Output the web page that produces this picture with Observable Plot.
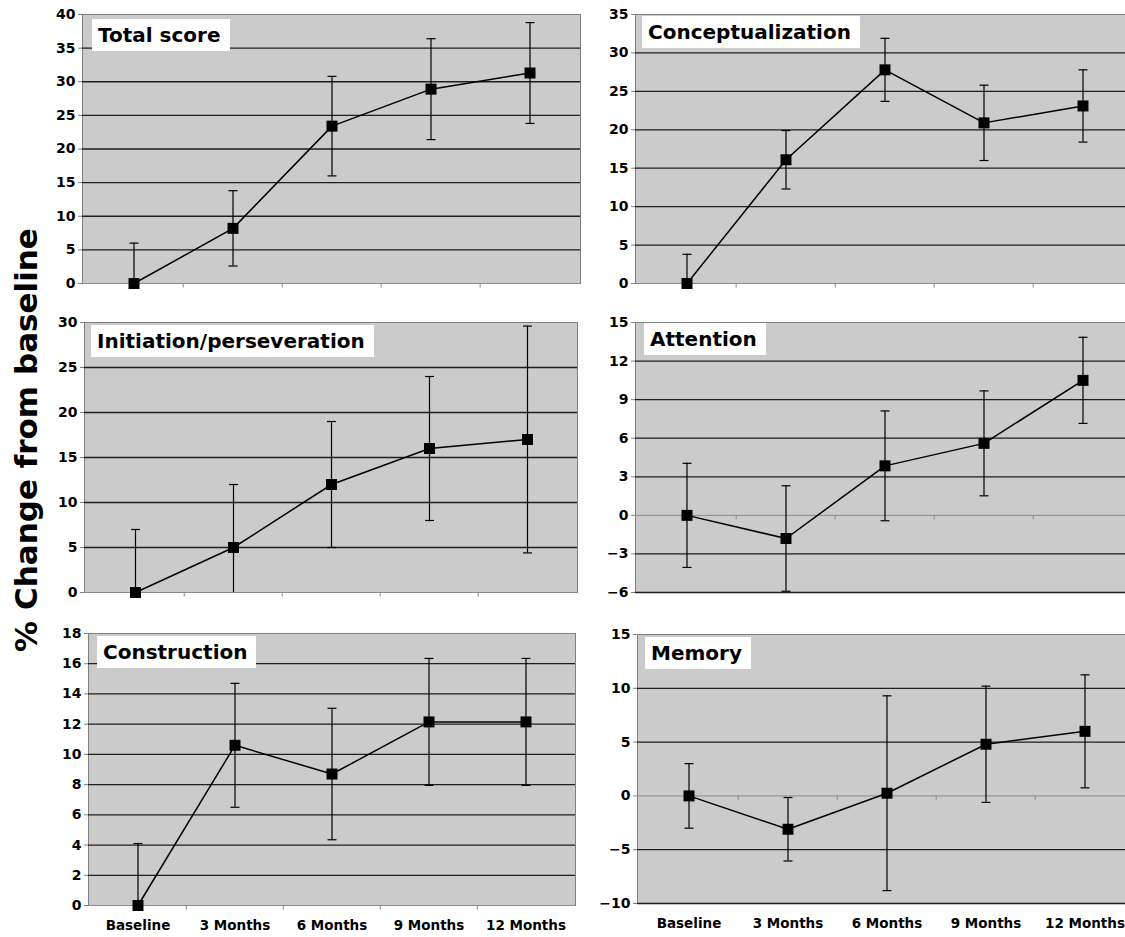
<!DOCTYPE html>
<html>
<head>
<meta charset="utf-8">
<script src="https://cdn.jsdelivr.net/npm/d3@7"></script>
<script src="https://cdn.jsdelivr.net/npm/@observablehq/plot@0.6"></script>
<style>
  html, body { margin: 0; padding: 0; background: #fff; overflow: hidden; }
  #page { position: relative; width: 1125px; height: 937px; overflow: hidden; font-family: "DejaVu Sans", Verdana, sans-serif; }
  .panel { position: absolute; }
  .panel svg { display: block; overflow: visible; max-width: none !important; }
  .panel svg text { font-weight: bold; }
  .title-box {
    position: absolute; background: #fff; color: #000;
    font: bold 20px "DejaVu Sans", Verdana, sans-serif; line-height: 24px;
    padding: 4px 9px 4px 6px; white-space: nowrap;
  }
  .ylabel {
    position: absolute; left: 26px; top: 440px;
    transform: translate(-50%, -50%) rotate(-90deg);
    font: bold 31px "DejaVu Sans", Verdana, sans-serif; white-space: nowrap; color: #000;
  }
  [aria-label^="x-axis"] text { font-size: 13.5px; }
  [aria-label="y-axis tick"], [aria-label="y-axis"] line { stroke: #808080; }
</style>
</head>
<body>
<div id="page"><div class="ylabel">% Change from baseline</div></div>
<script>
// Visits at which every subscale was measured
const timepoints = ["Baseline", "3 Months", "6 Months", "9 Months", "12 Months"];

// Mean % change from baseline and error-bar half-widths, per subscale
const totalMean = [0, 8.2, 23.4, 28.9, 31.3];
const totalErr = [6.0, 5.6, 7.4, 7.5, 7.5];
const totalTicks = [0, 5, 10, 15, 20, 25, 30, 35, 40];

const conceptMean = [0, 16.1, 27.8, 20.9, 23.1];
const conceptErr = [3.8, 3.8, 4.1, 4.9, 4.7];
const conceptTicks = [0, 5, 10, 15, 20, 25, 30, 35];

const initMean = [0, 5.0, 12.0, 16.0, 17.0];
const initErr = [7.0, 7.0, 7.0, 8.0, 12.6];
const initTicks = [0, 5, 10, 15, 20, 25, 30];

const attentionMean = [0, -1.8, 3.85, 5.6, 10.5];
const attentionErr = [4.05, 4.1, 4.27, 4.08, 3.35];
const attentionTicks = [-6, -3, 0, 3, 6, 9, 12, 15];

const constructionMean = [0, 10.6, 8.7, 12.15, 12.15];
const constructionErr = [4.1, 4.1, 4.35, 4.2, 4.2];
const constructionTicks = [0, 2, 4, 6, 8, 10, 12, 14, 16, 18];

const memoryMean = [0, -3.1, 0.25, 4.8, 6.0];
const memoryErr = [3.0, 2.95, 9.05, 5.4, 5.25];
const memoryTicks = [-10, -5, 0, 5, 10, 15];

const panels = [
  {title: "Total score", mean: totalMean, err: totalErr, ticks: totalTicks},
  {title: "Conceptualization", mean: conceptMean, err: conceptErr, ticks: conceptTicks},
  {title: "Initiation/perseveration", mean: initMean, err: initErr, ticks: initTicks},
  {title: "Attention", mean: attentionMean, err: attentionErr, ticks: attentionTicks},
  {title: "Construction", mean: constructionMean, err: constructionErr, ticks: constructionTicks},
  {title: "Memory", mean: memoryMean, err: memoryErr, ticks: memoryTicks}
];

// Page placement of each plot area (x0..x1, y0..y1) and its title box (tx, ty)
const layout = [
  {x0: 82, x1: 580, y0: 14, y1: 283, tx: 92, ty: 19},
  {x0: 635, x1: 1133, y0: 14, y1: 283, tx: 642, ty: 16},
  {x0: 84, x1: 577, y0: 322, y1: 592, tx: 91, ty: 325},
  {x0: 635, x1: 1133, y0: 322, y1: 592, tx: 644, ty: 323},
  {x0: 88, x1: 575, y0: 633, y1: 905, tx: 97, ty: 636, bottom: true},
  {x0: 637, x1: 1135, y0: 634, y1: 903, tx: 645, ty: 637, bottom: true}
];

// Short horizontal stroke used as an error-bar cap
const capSymbol = {draw(ctx) { ctx.moveTo(-4.5, 0); ctx.lineTo(4.5, 0); }};
// Short downward stroke used as a category-boundary tick on the category axis
const tickDown = {draw(ctx) { ctx.moveTo(0, 0); ctx.lineTo(0, 4); }};

const page = document.getElementById("page");

panels.forEach((p, k) => {
  const box = layout[k];
  const rows = timepoints.map((t, i) => ({
    t, mean: p.mean[i], lo: p.mean[i] - p.err[i], hi: p.mean[i] + p.err[i]
  }));
  const domain = [p.ticks[0], p.ticks[p.ticks.length - 1]];
  const grid = p.ticks.filter(v => v !== 0 && v !== domain[1]);
  const mL = 50, mR = 4, mT = 8, mB = box.bottom ? 40 : 10;
  const w = box.x1 - box.x0, h = box.y1 - box.y0;
  const bw = w / timepoints.length;
  const W = w + mL + mR, H = h + mT + mB;

  const svg = Plot.plot({
    width: W,
    height: H,
    marginLeft: mL, marginRight: mR, marginTop: mT, marginBottom: mB,
    style: {fontFamily: "DejaVu Sans, Verdana, sans-serif", fontSize: "14px", fontWeight: "bold", background: "none", color: "#000", overflow: "visible", maxWidth: "none"},
    x: {type: "band", domain: timepoints, padding: 0, axis: box.bottom ? "bottom" : null, tickSize: 0, tickPadding: 15, label: null},
    y: {domain, ticks: p.ticks, tickSize: 4, tickPadding: 3, label: null},
    marks: [
      Plot.frame({fill: "#cbcbcb"}),
      Plot.frame({stroke: "#808080", strokeWidth: 1}),
      Plot.ruleY(grid, {stroke: "#1e1e1e", strokeWidth: 1.3}),
      Plot.ruleY([0], {stroke: "#8a8a8a", strokeWidth: 1}),
      Plot.dot(timepoints.slice(1), {x: d => d, y: () => 0, dx: -bw / 2, symbol: tickDown, r: 1, stroke: "#8a8a8a", strokeWidth: 1, fill: "none"}),
      Plot.ruleX(rows, {x: "t", y1: "lo", y2: "hi", stroke: "#000", strokeWidth: 1.2, clip: true}),
      Plot.dot(rows, {x: "t", y: "hi", symbol: capSymbol, r: 1, stroke: "#000", strokeWidth: 1.2, fill: "none", clip: true}),
      Plot.dot(rows, {x: "t", y: "lo", symbol: capSymbol, r: 1, stroke: "#000", strokeWidth: 1.2, fill: "none", clip: true}),
      Plot.line(rows, {x: "t", y: "mean", stroke: "#000", strokeWidth: 1.5}),
      Plot.dot(rows, {x: "t", y: "mean", symbol: "square", r: 6.2, fill: "#000", stroke: "none"})
    ]
  });
  svg.style.width = W + "px";
  svg.style.height = H + "px";

  const holder = document.createElement("div");
  holder.className = "panel";
  holder.style.left = (box.x0 - mL) + "px";
  holder.style.top = (box.y0 - mT) + "px";
  holder.style.width = W + "px";
  holder.style.height = H + "px";
  holder.appendChild(svg);
  page.appendChild(holder);

  const titleBox = document.createElement("div");
  titleBox.className = "title-box";
  titleBox.style.left = box.tx + "px";
  titleBox.style.top = box.ty + "px";
  titleBox.textContent = p.title;
  page.appendChild(titleBox);
});
</script>
</body>
</html>
